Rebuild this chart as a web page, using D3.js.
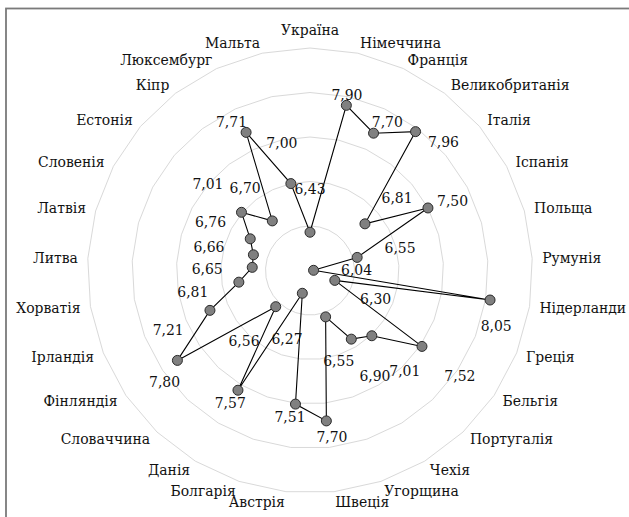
<!DOCTYPE html>
<html><head><meta charset="utf-8">
<script src="https://cdn.jsdelivr.net/npm/d3@7"></script>
<style>html,body{margin:0;padding:0;background:#fff;}svg{display:block;}
svg text{font-family:"DejaVu Serif Condensed","DejaVu Serif",serif;font-stretch:condensed;font-size:15.5px;fill:#111;}</style>
</head><body>
<script>
const countries = ["Україна","Німеччина","Франція","Великобританія","Італія","Іспанія","Польща","Румунія","Нідерланди","Греція","Бельгія","Португалія","Чехія","Угорщина","Швеція","Австрія","Болгарія","Данія","Словаччина","Фінляндія","Ірландія","Хорватія","Литва","Латвія","Словенія","Естонія","Кіпр","Люксембург","Мальта"];
const values = [6.43,7.90,7.70,7.96,6.81,7.50,6.55,6.04,8.05,6.30,7.52,7.01,6.90,6.55,7.70,7.51,6.27,7.57,6.56,7.80,7.21,6.81,6.65,6.66,6.76,7.01,6.70,7.71,7.00];
const ringTicks = [6.5,7.0,7.5,8.0,8.5];
const domain = [6.0, 8.5];
// label layout (radial gap in px, angular nudge in degrees)
const labelGap  = [43,10,16,11,41,25,44,43,12,45,48,48,44,46,17,13,48,15,47,23,46,47,45,45,43,44,43,16,42];
const labelTurn = [0,-0.5,2.7,8.8,0.7,2,1.2,2,7.4,2,1,0,-0.5,1,-1.3,1.6,0,0,-0.5,-3.3,-0.9,-0.9,-2,-2.5,-2,0,-0.8,-3,0];

const W = 629, H = 517, cx = 310, cy = 270.5, R = 222.5;
const svg = d3.select("body").append("svg").attr("width", W).attr("height", H);

svg.append("rect").attr("x",6).attr("y",8.5).attr("width",700).attr("height",600)
  .attr("fill","none").attr("stroke","#7a7a7a").attr("stroke-width",1.8);

const n = countries.length;
const angle = d3.scaleLinear().domain([0, n]).range([0, 2*Math.PI]);
const r = d3.scaleLinear().domain(domain).range([0, R]);
const g = svg.append("g").attr("transform", `translate(${cx},${cy})`);
const pt = (a, rad) => [rad*Math.sin(a), -rad*Math.cos(a)];

const idx = d3.range(n);
g.selectAll("path.ring").data(ringTicks).join("path").attr("class","ring")
  .attr("d", t => d3.line()(idx.map(i => pt(angle(i), r(t)))) + "Z")
  .attr("fill","none").attr("stroke","#d9d9d9").attr("stroke-width",1);

const labR = R + 10;
g.selectAll("text.cat").data(countries).join("text").attr("class","cat")
  .each(function(d, i){
    const a = angle(i), s = Math.sin(a), c = Math.cos(a);
    const [x, y] = pt(a, labR);
    const anchor = Math.abs(s) < 0.1 ? "middle" : (s > 0 ? "start" : "end");
    const yy = y + (anchor === "middle" ? -8*c : 0);
    d3.select(this).attr("x", x).attr("y", yy).attr("text-anchor", anchor).attr("dominant-baseline","central");
  })
  .text(d => d);

const pts = values.map((v, i) => pt(angle(i), r(v)));
g.append("path").attr("d", d3.line()(pts) + "Z")
  .attr("fill","none").attr("stroke","#000").attr("stroke-width",1.1);

g.selectAll("circle.pt").data(values).join("circle").attr("class","pt")
  .attr("cx", (v,i) => pt(angle(i), r(v))[0])
  .attr("cy", (v,i) => pt(angle(i), r(v))[1])
  .attr("r", 5).attr("fill","#808080").attr("stroke","#2a2a2a").attr("stroke-width",1);

const fmt = v => d3.format(".2f")(v).replace(".", ",");
g.selectAll("text.val").data(values).join("text").attr("class","val")
  .each(function(v, i){
    const a = angle(i) + labelTurn[i]*Math.PI/180;
    const [x, y] = pt(a, r(v) + labelGap[i]);
    d3.select(this).attr("x", x).attr("y", y);
  })
  .attr("text-anchor","middle").attr("dominant-baseline","central")
  .text(fmt);
</script>
</body></html>
